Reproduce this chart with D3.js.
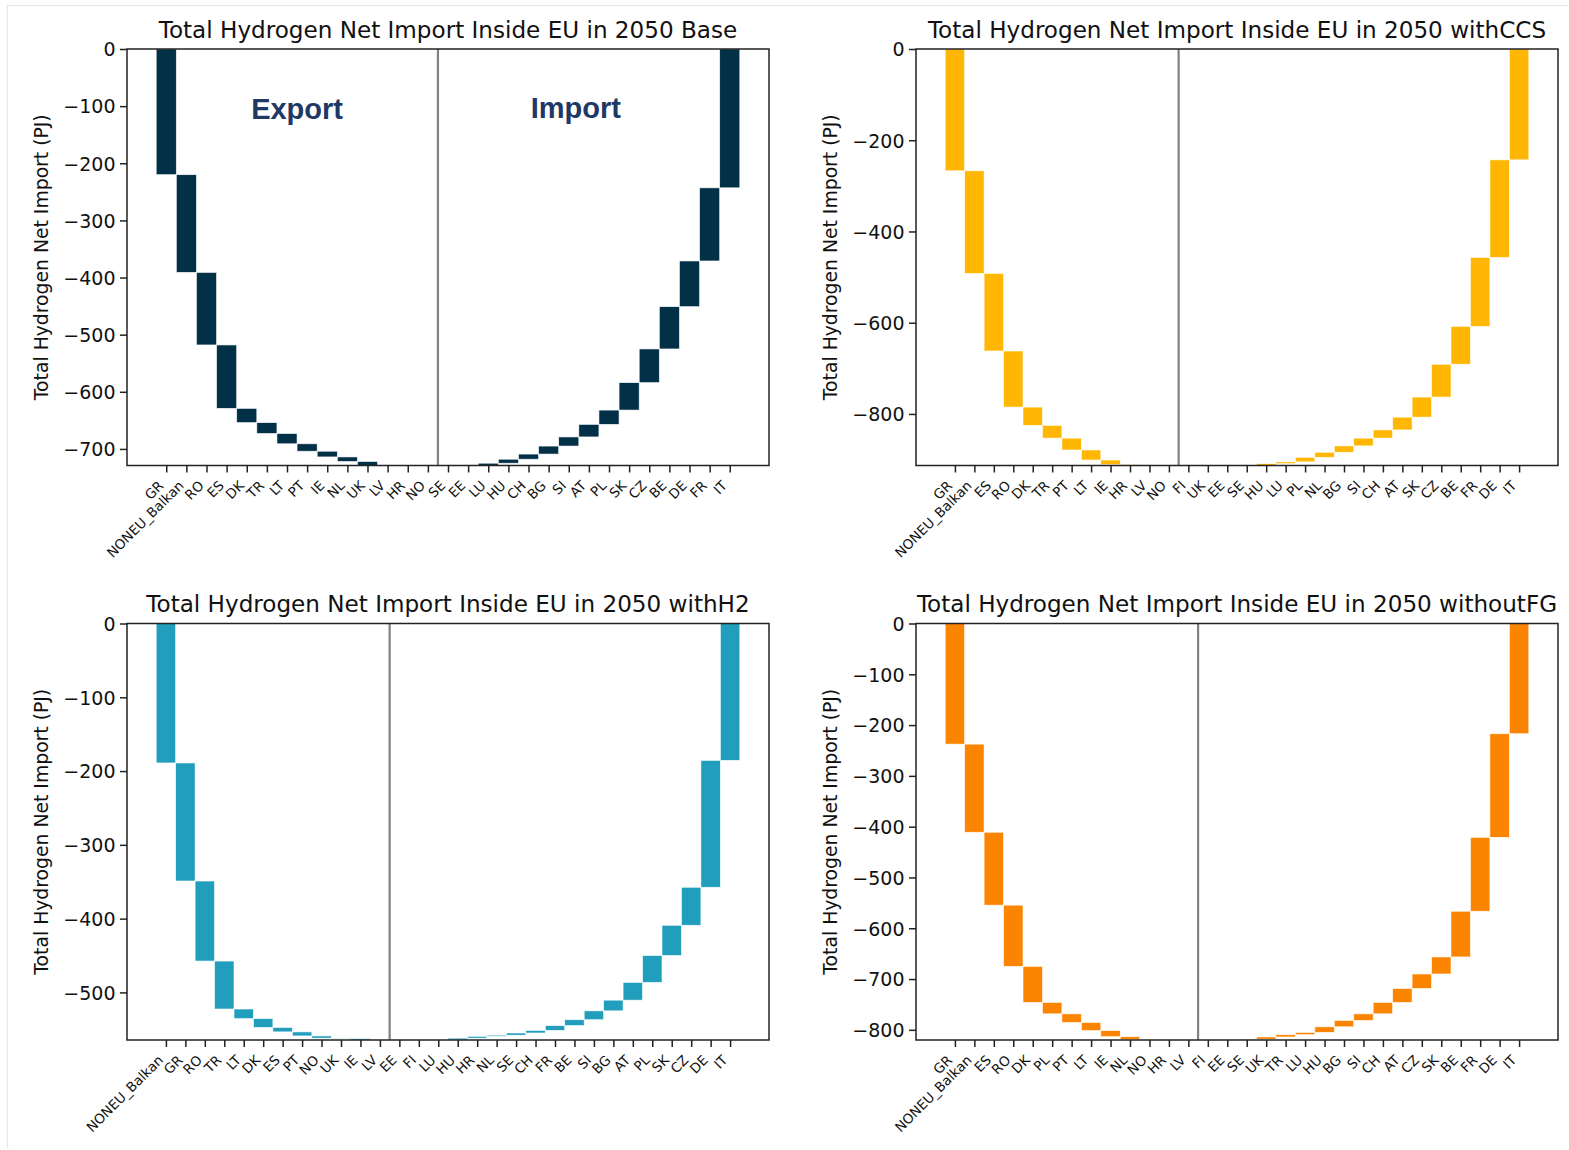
<!DOCTYPE html>
<html>
<head>
<meta charset="utf-8">
<script src="https://cdn.jsdelivr.net/npm/d3@7"></script>
<style>
  html, body { margin: 0; padding: 0; background: #ffffff; }
  svg { display: block; }
</style>
</head>
<body>
<div id="chart"></div>
<script>
// ---- Scenario data (PJ). Exporters push the running total down, importers bring it back to zero. ----
const baseExporters = ["GR", "NONEU_Balkan", "RO", "ES", "DK", "TR", "LT", "PT", "IE", "NL", "UK", "LV", "HR", "NO"];
const baseExportPJ  = [220, 171, 127, 111, 25, 19, 18, 13, 10, 8, 7, 0, 0, 0];
const baseImporters = ["SE", "EE", "LU", "HU", "CH", "BG", "SI", "AT", "PL", "SK", "CZ", "BE", "DE", "FR", "IT"];
const baseImportPJ  = [0, 0, 4, 7, 9, 14, 16, 22, 25, 48, 59, 74, 80, 128, 243];
const baseTicks     = [0, -100, -200, -300, -400, -500, -600, -700];

const ccsExporters = ["GR", "NONEU_Balkan", "ES", "RO", "DK", "TR", "PT", "LT", "IE", "HR", "LV", "NO"];
const ccsExportPJ  = [267, 225, 170, 123, 40, 28, 26, 22, 10, 2, 0, 0];
const ccsImporters = ["FI", "UK", "EE", "SE", "HU", "LU", "PL", "NL", "BG", "SI", "CH", "AT", "SK", "CZ", "BE", "FR", "DE", "IT"];
const ccsImportPJ  = [0, 0, 0, 0, 4, 4, 10, 11, 14, 17, 18, 28, 44, 72, 83, 151, 214, 243];
const ccsTicks     = [0, -200, -400, -600, -800];

const h2Exporters = ["NONEU_Balkan", "GR", "RO", "TR", "LT", "DK", "ES", "PT", "NO", "UK", "IE", "LV"];
const h2ExportPJ  = [189, 160, 108.5, 65, 13, 12, 6, 5.5, 3, 0.5, 2, 0];
const h2Importers = ["EE", "FI", "LU", "HU", "HR", "NL", "SE", "CH", "FR", "BE", "SI", "BG", "AT", "PL", "SK", "CZ", "DE", "IT"];
const h2ImportPJ  = [0, 0, 0, 2.5, 2.5, 1.5, 3, 3.5, 6.5, 8, 12, 14.5, 24, 36.5, 41, 51.5, 172, 185.5];
const h2Ticks     = [0, -100, -200, -300, -400, -500];

const fgExporters = ["GR", "NONEU_Balkan", "ES", "RO", "DK", "PL", "PT", "LT", "IE", "NL", "NO", "HR", "LV"];
const fgExportPJ  = [237.5, 173.5, 143.5, 120.5, 71, 22.5, 17, 16, 12, 5.5, 1, 0, 0];
const fgImporters = ["FI", "EE", "SE", "UK", "TR", "LU", "HU", "BG", "SI", "CH", "AT", "CZ", "SK", "BE", "FR", "DE", "IT"];
const fgImportPJ  = [0, 0, 1.5, 4.5, 4.5, 4.5, 11, 12.5, 13, 22.5, 27.5, 28.5, 33.5, 90, 145.5, 204, 217];
const fgTicks     = [0, -100, -200, -300, -400, -500, -600, -700, -800];

const scenarioNames = ["Base", "withCCS", "withH2", "withoutFG"];
const scenarioColors = ["#023047", "#FFB703", "#219EBC", "#FB8500"];

// ---- Page layout ----
const W = 1569, H = 1150;
const panels = [
  { name: scenarioNames[0], color: scenarioColors[0], exp: baseExporters, expV: baseExportPJ, imp: baseImporters, impV: baseImportPJ, ticks: baseTicks,
    box: { left: 127, right: 769, top: 49, bottom: 465.5 }, notes: true },
  { name: scenarioNames[1], color: scenarioColors[1], exp: ccsExporters, expV: ccsExportPJ, imp: ccsImporters, impV: ccsImportPJ, ticks: ccsTicks,
    box: { left: 916, right: 1558, top: 49, bottom: 465.5 } },
  { name: scenarioNames[2], color: scenarioColors[2], exp: h2Exporters, expV: h2ExportPJ, imp: h2Importers, impV: h2ImportPJ, ticks: h2Ticks,
    box: { left: 127, right: 769, top: 623.5, bottom: 1040 } },
  { name: scenarioNames[3], color: scenarioColors[3], exp: fgExporters, expV: fgExportPJ, imp: fgImporters, impV: fgImportPJ, ticks: fgTicks,
    box: { left: 916, right: 1558, top: 623.5, bottom: 1040 } }
];

const FONT = "'DejaVu Sans', Verdana, sans-serif";
const minus = v => (v < 0 ? "\u2212" + Math.abs(v) : String(v));

const svg = d3.select("#chart").append("svg")
  .attr("width", W).attr("height", H)
  .attr("viewBox", `0 0 ${W} ${H}`);

svg.append("rect").attr("width", W).attr("height", H).attr("fill", "#ffffff");

// faint page frame
svg.append("line").attr("x1", 7).attr("x2", W).attr("y1", 5.5).attr("y2", 5.5)
  .attr("stroke", "#e6e6e6").attr("stroke-width", 1.2);
svg.append("line").attr("x1", 7.5).attr("x2", 7.5).attr("y1", 5).attr("y2", 1148)
  .attr("stroke", "#e6e6e6").attr("stroke-width", 1.2);

panels.forEach(p => {
  const cats = p.exp.concat(p.imp);
  const n = cats.length;

  // waterfall segments
  let cum = 0;
  const segs = [];
  p.exp.forEach((c, i) => { const start = cum; cum -= p.expV[i]; segs.push({ cat: c, i: segs.length, y0: start, y1: cum }); });
  const floor = cum;
  p.imp.forEach((c, i) => { const start = cum; cum += p.impV[i]; segs.push({ cat: c, i: segs.length, y0: start, y1: cum }); });

  const margin = 0.5 + 0.05 * n;
  const x = d3.scaleLinear().domain([-margin, n - 1 + margin]).range([p.box.left, p.box.right]);
  const y = d3.scaleLinear().domain([floor, 0]).range([p.box.bottom, p.box.top]);

  const g = svg.append("g");

  // bars
  g.append("g").selectAll("rect")
    .data(segs.filter(s => s.y0 !== s.y1))
    .join("rect")
    .attr("x", d => x(d.i - 0.5))
    .attr("width", d => x(d.i + 0.5) - x(d.i - 0.5))
    .attr("y", d => y(Math.max(d.y0, d.y1)))
    .attr("height", d => Math.abs(y(d.y0) - y(d.y1)))
    .attr("fill", p.color)
    .attr("stroke", "#ffffff")
    .attr("stroke-opacity", 0.85)
    .attr("stroke-width", 0.7);

  // export / import divider
  const split = p.exp.length - 0.5;
  g.append("line")
    .attr("x1", x(split)).attr("x2", x(split))
    .attr("y1", p.box.top).attr("y2", p.box.bottom)
    .attr("stroke", "#808080").attr("stroke-width", 2.2);

  // y axis
  const yAxis = d3.axisLeft(y).tickValues(p.ticks).tickFormat(minus).tickSize(7).tickPadding(4.5);
  const ya = g.append("g").attr("transform", `translate(${p.box.left},0)`).call(yAxis);
  ya.select(".domain").remove();
  ya.selectAll(".tick line").attr("stroke", "#222").attr("stroke-width", 1.5);
  ya.selectAll(".tick text").attr("font-family", FONT).attr("font-size", 19).attr("fill", "#111")
    .attr("dy", "0.36em");

  // x axis
  const xAxis = d3.axisBottom(x).tickValues(d3.range(n)).tickFormat(i => cats[i]).tickSize(7).tickPadding(0);
  const xa = g.append("g").attr("transform", `translate(0,${p.box.bottom})`).call(xAxis);
  xa.select(".domain").remove();
  xa.selectAll(".tick line").attr("stroke", "#222").attr("stroke-width", 1.5);
  xa.selectAll(".tick text")
    .attr("font-family", FONT).attr("font-size", 13.5).attr("fill", "#111")
    .attr("text-anchor", "end")
    .attr("dy", null).attr("y", null)
    .attr("transform", "translate(-2.3,21) rotate(-45)");

  // frame
  g.append("rect")
    .attr("x", p.box.left).attr("y", p.box.top)
    .attr("width", p.box.right - p.box.left).attr("height", p.box.bottom - p.box.top)
    .attr("fill", "none").attr("stroke", "#222").attr("stroke-width", 1.5);

  // title
  g.append("text")
    .attr("x", (p.box.left + p.box.right) / 2).attr("y", p.box.top - 11.5)
    .attr("text-anchor", "middle")
    .attr("font-family", FONT).attr("font-size", 23.1).attr("fill", "#111")
    .text(`Total Hydrogen Net Import Inside EU in 2050 ${p.name}`);

  // y label
  g.append("text")
    .attr("transform", `translate(${p.box.left - 79},${(p.box.top + p.box.bottom) / 2}) rotate(-90)`)
    .attr("text-anchor", "middle")
    .attr("font-family", FONT).attr("font-size", 18.8).attr("fill", "#111")
    .text("Total Hydrogen Net Import (PJ)");

  // side annotations
  if (p.notes) {
    g.append("text").attr("x", x(6.5)).attr("y", y(-123))
      .attr("text-anchor", "middle").attr("font-family", "'Liberation Sans', Arial, sans-serif")
      .attr("font-weight", "bold").attr("font-size", 29).attr("fill", "#203864").text("Export");
    g.append("text").attr("x", x(20.35)).attr("y", y(-121))
      .attr("text-anchor", "middle").attr("font-family", "'Liberation Sans', Arial, sans-serif")
      .attr("font-weight", "bold").attr("font-size", 29).attr("fill", "#203864").text("Import");
  }
});
</script>
</body>
</html>
